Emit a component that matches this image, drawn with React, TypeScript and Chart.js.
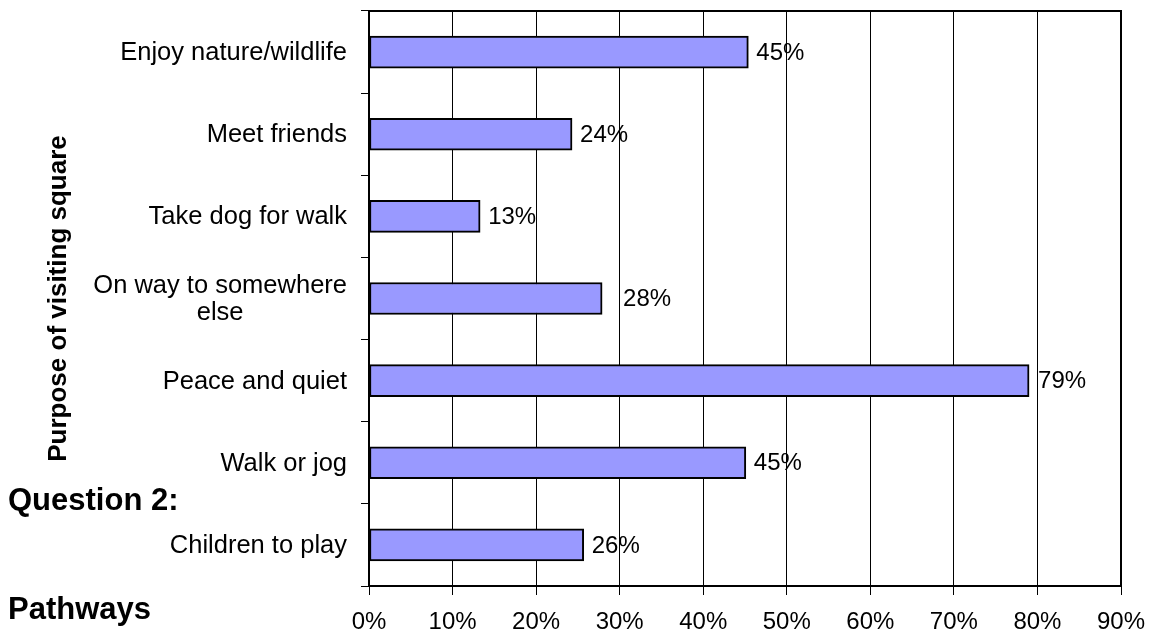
import React, { useEffect, useRef } from 'react';
import { Chart, registerables } from 'chart.js';

Chart.register(...registerables);

const categories: string[][] = [
  ['Enjoy nature/wildlife'],
  ['Meet friends'],
  ['Take dog for walk'],
  ['On way to somewhere', 'else'],
  ['Peace and quiet'],
  ['Walk or jog'],
  ['Children to play'],
];
const values: number[] = [45.4, 24.3, 13.3, 27.9, 79.0, 45.1, 25.7];
const dataLabels: string[] = ['45%', '24%', '13%', '28%', '79%', '45%', '26%'];
const xMin = 0;
const xMax = 90;
const xStep = 10;
const axisTitle = 'Purpose of visiting square';
const sideTexts: string[] = ['Question 2:', 'Pathways'];

const FONT = '"Liberation Sans", Arial, sans-serif';
const labelGaps = [8, 8, 8, 21, 9, 8, 8];

const overlay = {
  id: 'overlay',
  afterDatasetsDraw(chart: any) {
    const { ctx, chartArea: a, scales } = chart;
    const x = scales.x;
    const y = scales.y;
    ctx.save();
    // frame
    ctx.strokeStyle = '#000';
    ctx.lineWidth = 2;
    ctx.strokeRect(a.left, a.top, a.right - a.left, a.bottom - a.top);

    // data labels
    ctx.fillStyle = '#000';
    ctx.font = `24px ${FONT}`;
    ctx.textBaseline = 'middle';
    ctx.textAlign = 'left';
    values.forEach((v, i) => {
      const px = x.getPixelForValue(v) + labelGaps[i];
      const py = y.getPixelForValue(i);
      ctx.fillText(dataLabels[i], px, py + 1);
    });

    // category labels
    ctx.font = `25.5px ${FONT}`;
    ctx.textAlign = 'center';
    categories.forEach((lines, i) => {
      const cy = y.getPixelForValue(i);
      const maxW = Math.max(...lines.map((l) => ctx.measureText(l).width));
      const cx = a.left - 22 - maxW / 2;
      lines.forEach((l, j) => {
        ctx.fillText(l, cx, cy + (j - (lines.length - 1) / 2) * 27 + 1);
      });
    });

    // axis title
    ctx.font = `bold 26px ${FONT}`;
    ctx.save();
    ctx.translate(59, (a.top + a.bottom) / 2);
    ctx.rotate(-Math.PI / 2);
    ctx.textAlign = 'center';
    ctx.textBaseline = 'middle';
    ctx.fillText(axisTitle, 0, 0);
    ctx.restore();

    // side texts
    ctx.font = `bold 31px ${FONT}`;
    ctx.textAlign = 'left';
    ctx.textBaseline = 'alphabetic';
    ctx.fillText(sideTexts[0], 8, 510);
    ctx.fillText(sideTexts[1], 8, 619);
    ctx.restore();
  },
};

export default function App() {
  const ref = useRef<HTMLCanvasElement>(null);
  useEffect(() => {
    if (!ref.current) return;
    const chart = new Chart(ref.current, {
      type: 'bar',
      data: {
        labels: categories.map((c) => c.join(' ')),
        datasets: [
          {
            data: values,
            backgroundColor: '#9999FF',
            borderColor: '#000000',
            borderWidth: 2,
            barThickness: 32,
            borderSkipped: false,
          },
        ],
      },
      options: {
        indexAxis: 'y',
        responsive: false,
        animation: false,
        layout: { padding: { top: 11, right: 30, left: 0, bottom: 0 } },
        plugins: {
          legend: { display: false },
          tooltip: { enabled: false },
          title: { display: false },
        },
        scales: {
          x: {
            type: 'linear',
            min: xMin,
            max: xMax,
            ticks: {
              stepSize: xStep,
              color: '#000',
              font: { family: FONT, size: 24 },
              padding: 13,
              callback: (v: any) => `${v}%`,
            },
            grid: { color: '#000', lineWidth: 1, tickLength: 9, drawTicks: true },
            border: { display: true, color: '#000', width: 2 },
            afterFit: (s: any) => {
              s.height = 48;
              s.paddingLeft = 0;
              s.paddingRight = 0;
            },
          },
          y: {
            type: 'category',
            ticks: { display: false },
            grid: {
              offset: true,
              drawOnChartArea: false,
              drawTicks: true,
              tickLength: 8,
              color: '#000',
              lineWidth: 1,
            },
            border: { display: true, color: '#000', width: 2 },
            afterFit: (s: any) => {
              s.width = 369;
              s.paddingTop = 0;
              s.paddingBottom = 0;
            },
          },
        },
      },
      plugins: [overlay],
    } as any);
    return () => chart.destroy();
  }, []);
  return (
    <div style={{ position: 'fixed', left: 0, top: 0, width: 1151, height: 634, background: '#fff' }}>
      <canvas ref={ref} width={1151} height={634} style={{ display: 'block' }} />
    </div>
  );
}
